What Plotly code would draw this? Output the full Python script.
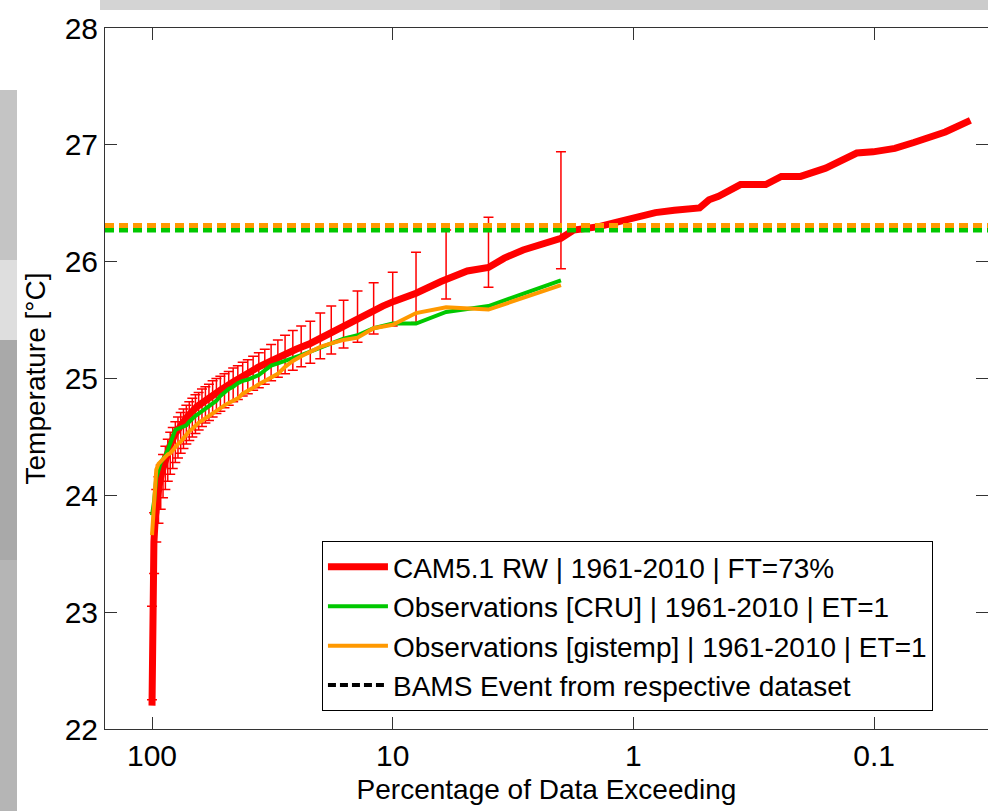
import plotly.graph_objects as go

# ---------------- data ----------------
model_pct = [100, 99.9, 99.75, 99.5, 99.0, 98.2, 97.0, 95.5, 93.5, 91, 88, 84, 80, 76, 71, 65,
             58, 52, 46, 40.7, 36, 32, 28, 25.2, 22, 19.8, 17.5, 15.5, 13.8, 12.2, 11, 9.9,
             8, 6.3, 4.9, 4.0, 3.44, 2.87, 2.26, 2.0, 1.77, 1.39, 1.16, 1.0, 0.81, 0.676,
             0.531, 0.485, 0.443, 0.359, 0.282, 0.243, 0.202, 0.159, 0.118, 0.101, 0.082,
             0.0684, 0.0506, 0.0398]
model_temp = [22.2, 22.6, 23.0, 23.2, 23.4, 23.6, 23.8, 23.95, 24.08, 24.2, 24.32, 24.43, 24.53,
              24.6, 24.68, 24.76, 24.84, 24.9, 24.97, 25.04, 25.10, 25.15, 25.21, 25.25, 25.3,
              25.35, 25.4, 25.45, 25.52, 25.58, 25.62, 25.66, 25.73, 25.83, 25.92, 25.95, 26.03,
              26.10, 26.17, 26.2, 26.27, 26.30, 26.34, 26.37, 26.42, 26.44, 26.46, 26.53, 26.56,
              26.66, 26.66, 26.73, 26.73, 26.80, 26.93, 26.94, 26.97, 27.02, 27.11, 27.21]

bar_pct = [100, 98, 96, 94, 92, 90, 88, 86, 84, 82, 80, 78, 76, 74, 72, 70, 68, 66, 64, 62,
           60, 58, 56, 54, 52, 50, 48, 46, 44, 42, 40, 38, 36, 34, 32, 30, 28, 26, 24, 22,
           20, 18, 16, 14, 12, 10, 8, 6, 4, 2]
bar_low = [22.25, 23.33, 23.6, 23.76, 23.88, 23.98, 24.05, 24.12, 24.18, 24.23, 24.28, 24.32,
           24.36, 24.40, 24.44, 24.47, 24.50, 24.53, 24.56, 24.59, 24.62, 24.64, 24.67, 24.70,
           24.72, 24.75, 24.77, 24.80, 24.82, 24.85, 24.87, 24.90, 24.92, 24.95, 24.98, 25.01,
           25.04, 25.07, 25.10, 25.13, 25.17, 25.21, 25.26, 25.31, 25.38, 25.45, 25.48, 25.68,
           25.78, 25.94]
bar_high = [23.05, 23.85, 24.05, 24.16, 24.26, 24.35, 24.42, 24.48, 24.54, 24.58, 24.63, 24.67,
            24.71, 24.74, 24.77, 24.80, 24.83, 24.86, 24.88, 24.91, 24.93, 24.95, 24.98, 25.00,
            25.02, 25.04, 25.06, 25.09, 25.11, 25.14, 25.16, 25.19, 25.22, 25.25, 25.29, 25.33,
            25.37, 25.41, 25.45, 25.49, 25.56, 25.62, 25.67, 25.75, 25.82, 25.91, 26.08, 26.27,
            26.38, 26.94]

cru_temp = [23.83, 23.95, 24.15, 24.22, 24.28, 24.31, 24.34, 24.39, 24.45, 24.52, 24.56, 24.57,
            24.58, 24.59, 24.60, 24.63, 24.66, 24.68, 24.70, 24.72, 24.74, 24.76, 24.78, 24.81,
            24.85, 24.88, 24.91, 24.93, 24.96, 24.98, 24.99, 25.01, 25.03, 25.07, 25.11, 25.13,
            25.15, 25.17, 25.20, 25.23, 25.26, 25.30, 25.34, 25.37, 25.43, 25.47, 25.47, 25.57,
            25.62, 25.84]
gis_temp = [23.66, 24.0, 24.22, 24.27, 24.29, 24.31, 24.33, 24.35, 24.36, 24.39, 24.41, 24.44,
            24.46, 24.49, 24.52, 24.55, 24.57, 24.60, 24.62, 24.64, 24.66, 24.68, 24.71, 24.73,
            24.75, 24.77, 24.79, 24.81, 24.83, 24.87, 24.89, 24.92, 24.95, 24.98, 25.01, 25.04,
            25.10, 25.15, 25.19, 25.23, 25.27, 25.30, 25.33, 25.35, 25.43, 25.46, 25.56, 25.61,
            25.59, 25.80]

event_cru = 26.27
event_gis = 26.31

x_tickvals = [100, 10, 1, 0.1]
x_ticktext = ["100", "10", "1", "0.1"]
y_tickvals = [22, 23, 24, 25, 26, 27, 28]

names = ["CAM5.1 RW | 1961-2010 | FT=73%",
         "Observations [CRU] | 1961-2010 | ET=1",
         "Observations [gistemp] | 1961-2010 | ET=1",
         "BAMS Event from respective dataset"]

RED = "#ff0000"
GREEN = "#00c800"
ORANGE = "#ff9900"
FONT = "Liberation Sans, Arial, sans-serif"

# ---------------- figure ----------------
fig = go.Figure()

fig.add_trace(go.Scatter(x=model_pct, y=model_temp, mode="lines", name=names[0],
                         line=dict(color=RED, width=7)))

fig.add_trace(go.Scatter(
    x=bar_pct, y=bar_low, mode="markers", showlegend=False, hoverinfo="skip",
    marker=dict(size=1, color=RED, opacity=0),
    error_y=dict(type="data", symmetric=False,
                 array=[h - l for h, l in zip(bar_high, bar_low)],
                 arrayminus=[0] * len(bar_low),
                 color=RED, thickness=1.5, width=5)))

fig.add_trace(go.Scatter(x=bar_pct, y=cru_temp, mode="lines", name=names[1],
                         line=dict(color=GREEN, width=4)))
fig.add_trace(go.Scatter(x=bar_pct, y=gis_temp, mode="lines", name=names[2],
                         line=dict(color=ORANGE, width=4)))
fig.add_trace(go.Scatter(x=[None], y=[None], mode="lines", name=names[3],
                         line=dict(color="black", width=4, dash="8px,4px")))

# event lines across the whole axis
for val, col in [(event_cru, GREEN), (event_gis, ORANGE)]:
    fig.add_shape(type="line", xref="x domain", yref="y", x0=0, x1=1, y0=val, y1=val,
                  line=dict(color=col, width=5, dash="9px,5px"), layer="above")

# background photo-like strips (decoration), given in page pixels
def px2paper(px, py):
    return (px - 105) / 883, (729 - py) / 701

for (x0, y0, x1, y1, c) in [(100, 0, 500, 10, "#d4d4d4"),
                            (500, 0, 988, 10, "#cbcbcb"),
                            (0, 90, 17, 260, "#c4c4c4"),
                            (0, 260, 17, 340, "#dedede"),
                            (0, 340, 17, 560, "#a9a9a9"),
                            (0, 560, 17, 811, "#b5b5b5")]:
    a0, b0 = px2paper(x0, y0)
    a1, b1 = px2paper(x1, y1)
    fig.add_shape(type="rect", xref="paper", yref="paper", x0=a0, x1=a1, y0=b1, y1=b0,
                  fillcolor=c, line=dict(width=0), layer="below")

fig.update_layout(
    width=988, height=811, autosize=False,
    margin=dict(l=105, r=0, t=28, b=82),
    paper_bgcolor="white", plot_bgcolor="white",
    font=dict(family=FONT, size=28, color="black"),
    showlegend=True,
    legend=dict(x=0.2457, y=0.268, xanchor="left", yanchor="top",
                bgcolor="white", bordercolor="black", borderwidth=1,
                font=dict(family=FONT, size=28, color="black"),
                itemwidth=60, tracegroupgap=0),
)

fig.update_xaxes(type="log", range=[2.1953, -1.4732], tickvals=x_tickvals, ticktext=x_ticktext,
                 ticks="inside", ticklen=12, tickcolor="#333", showline=True, linecolor="#333",
                 linewidth=1, mirror="ticks", showgrid=False, zeroline=False, automargin=False,
                 title=dict(text="Percentage of Data Exceeding", standoff=8,
                            font=dict(size=28)),
                 tickfont=dict(size=30))
fig.update_yaxes(range=[22, 28], tickvals=y_tickvals, ticks="inside", ticklen=12, tickcolor="#333",
                 showline=True, linecolor="#333", linewidth=1, mirror="ticks", showgrid=False,
                 zeroline=False, automargin=False,
                 title=dict(text="Temperature [°C]", standoff=10, font=dict(size=28)),
                 tickfont=dict(size=30))

fig.write_html("out.html", config={"displayModeBar": False},
               post_script="document.body.style.margin='0px';")
